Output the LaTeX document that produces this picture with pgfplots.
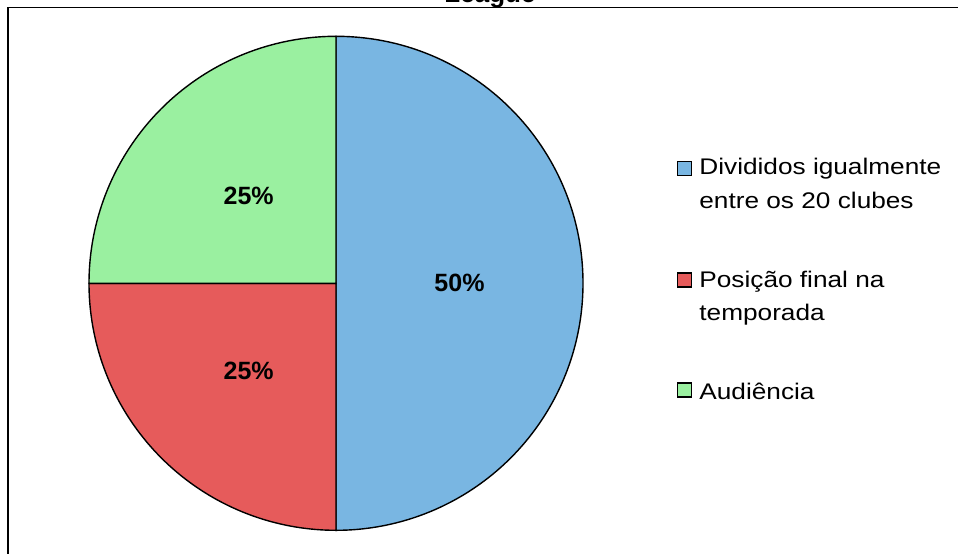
\documentclass[border=0pt]{standalone}
\usepackage{pgfplots}
\pgfplotsset{compat=1.18}
\usepackage{pgfplotstable}
\usepackage{fontspec}
\setmainfont{Liberation Sans}
\newfontfamily\legfont{Liberation Sans}[FakeStretch=1.16]
\definecolor{pieblue}{HTML}{79B6E2}
\definecolor{piered}{HTML}{E65B5B}
\definecolor{piegreen}{HTML}{9AF0A0}

\pgfplotstableread{
value color
50 pieblue
25 piered
25 piegreen
}\piedata

\begin{document}
\begin{tikzpicture}
\useasboundingbox (0,0) rectangle (479pt,-276.5pt);
\clip (0,0) rectangle (479pt,-276.5pt);
\draw[line width=0.6pt] (4pt,-290pt) -- (4pt,-3.85pt) -- (490pt,-3.85pt);
\node[font=\bfseries\fontsize{13}{15}\selectfont, anchor=base, inner sep=0] at (245pt,-1.25pt) {League};
\begin{axis}[hide axis, scale only axis, width=247pt, height=247pt,
  xmin=-1, xmax=1, ymin=-1, ymax=1, anchor=center, at={(168pt,-141.65pt)}, clip=false]
\pgfplotsextra{
  \gdef\startang{90}
  \foreach \i in {0,1,2}{
    \pgfplotstablegetelem{\i}{value}\of\piedata \let\sliceval\pgfplotsretval
    \pgfplotstablegetelem{\i}{color}\of\piedata \let\slicecol\pgfplotsretval
    \pgfmathsetmacro{\endang}{\startang-3.6*\sliceval}
    \pgfmathsetmacro{\midang}{(\startang+\endang)/2}
    \fill[\slicecol, draw=black, line width=0.7pt] (axis cs:0,0) -- (axis cs:{cos(\startang)},{sin(\startang)}) arc[start angle=\startang, end angle=\endang, radius=123.5pt] -- cycle;
    \node[font=\bfseries\fontsize{12.5}{15}\selectfont, inner sep=0] at (axis cs:{0.5*cos(\midang)},{0.5*sin(\midang)}) {\sliceval\%};
    \xdef\startang{\endang}
  }
}
\end{axis}
% legend
\draw[fill=pieblue, line width=0.6pt] (338.85pt,-80.65pt) rectangle (345.85pt,-87.65pt);
\draw[fill=piered, line width=0.6pt] (338.85pt,-136.5pt) rectangle (345.85pt,-143.5pt);
\draw[fill=piegreen, line width=0.6pt] (338.85pt,-191.5pt) rectangle (345.85pt,-198.5pt);
\begin{scope}[every node/.style={anchor=base west, inner sep=0, font=\legfont\fontsize{11.3}{14}\selectfont}]
\node at (349.5pt,-87.25pt) {Divididos igualmente};
\node at (349.5pt,-104pt) {entre os 20 clubes};
\node at (349.5pt,-143.5pt) {Posição final na};
\node at (349.5pt,-160.25pt) {temporada};
\node at (349.5pt,-199.5pt) {Audiência};
\end{scope}
\end{tikzpicture}
\end{document}
